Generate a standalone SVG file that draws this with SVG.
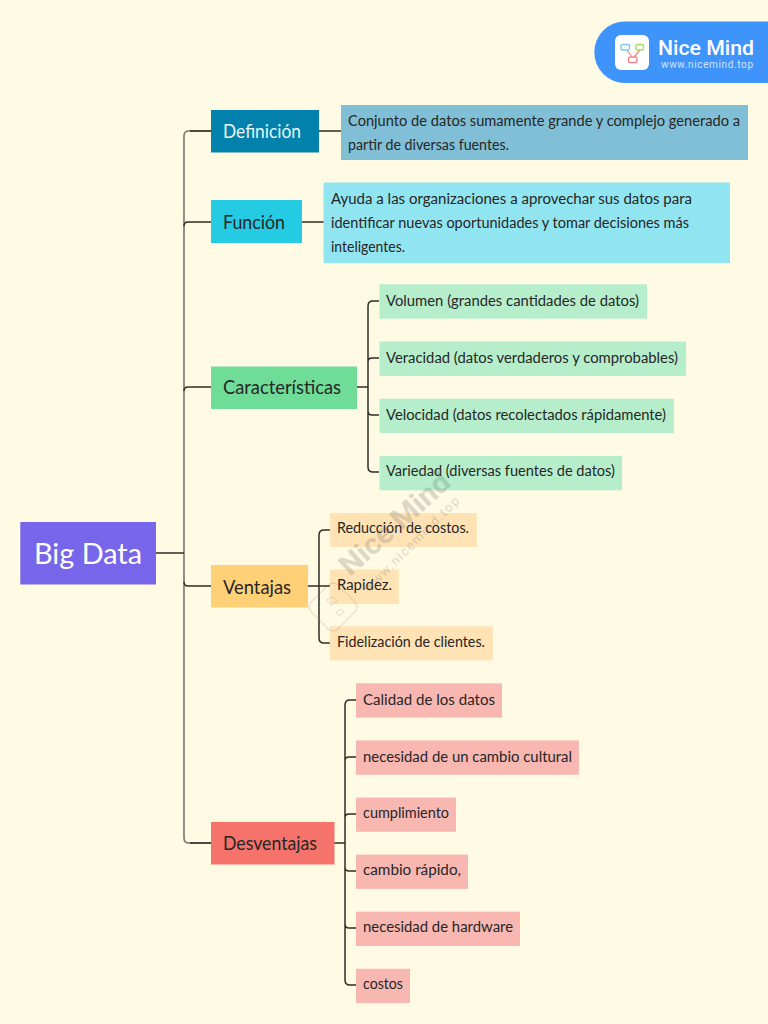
<svg xmlns="http://www.w3.org/2000/svg" width="768" height="1024" viewBox="0 0 768 1024">
<style>
text{font-family:"Lato","Noto Sans",sans-serif;fill:#262626}
.t{font-size:14.5px}.m{font-size:19px}
.c{fill:none;stroke:#2e2e26;stroke-width:1.5}
.k{fill:none;stroke:#77776a;stroke-width:1.6}
.g{fill:#b6eecb}.o{fill:#ffe3b5}.r{fill:#f9b7b2}
.w{fill:#555;font-family:Roboto,sans-serif}
</style>
<rect width="768" height="1024" fill="#fffae3"/>
<g id="connectors">
<path class="k" d="M211 131H189Q184 131 184 136V838Q184 843 189 843H211"/>
<path class="c" d="M156 553H184M190 131H211M190 843H211"/>
<path class="c" d="M184 226Q184 222 188 222H211M184 391Q184 387 188 387H211M184 582Q184 586 188 586H211"/>
<path class="c" d="M319 131H341M302 222H324"/>
<path class="c" d="M357 387H368M379 301H373Q368 301 368 306V467Q368 472 373 472H379M368 362Q368 358 372 358H379M368 411Q368 415 372 415H379"/>
<path class="c" d="M308 586H330M330 530H324Q319 530 319 535V638Q319 643 324 643H330"/>
<path class="c" d="M334 843H345M356 700H350Q345 700 345 705V980Q345 985 350 985H356M345 761Q345 757 349 757H356M345 818Q345 814 349 814H356M345 867Q345 871 349 871H356M345 924Q345 928 349 928H356"/>
</g>
<g id="big-data"><rect x="20.300" y="522" width="135.700" height="62.500" fill="#7866ea"/><text x="34" y="563.500" font-size="29" textLength="108" lengthAdjust="spacingAndGlyphs" style="fill:#fff">Big Data</text></g>
<g id="definicion"><rect x="211" y="110" width="108" height="42.500" fill="#0181ac"/><text class="m" x="223" y="137.500" textLength="78" lengthAdjust="spacingAndGlyphs" style="fill:#e8f6fa">Definición</text></g>
<g id="definicion-text"><rect x="341" y="105" width="407" height="55" fill="#80bfd5"/><text class="t" x="348" y="125.500" textLength="392" lengthAdjust="spacingAndGlyphs">Conjunto de datos sumamente grande y complejo generado a</text><text class="t" x="348" y="149.500" textLength="161" lengthAdjust="spacingAndGlyphs">partir de diversas fuentes.</text></g>
<g id="funcion"><rect x="211" y="200" width="91" height="43" fill="#24cbe3"/><text class="m" x="223" y="228.500" textLength="62" lengthAdjust="spacingAndGlyphs">Función</text></g>
<g id="funcion-text"><rect x="323.500" y="182.500" width="406.500" height="80.500" fill="#91e5f1"/><text class="t" x="331" y="203.500" textLength="361" lengthAdjust="spacingAndGlyphs">Ayuda a las organizaciones a aprovechar sus datos para</text><text class="t" x="331" y="228" textLength="358" lengthAdjust="spacingAndGlyphs">identificar nuevas oportunidades y tomar decisiones más</text><text class="t" x="331" y="251.500" textLength="74" lengthAdjust="spacingAndGlyphs">inteligentes.</text></g>
<g id="caracteristicas"><rect x="211" y="366.500" width="146" height="42.500" fill="#6fdc98"/><text class="m" x="223" y="393.500" textLength="118" lengthAdjust="spacingAndGlyphs">Características</text></g>
<g id="c1"><rect class="g" x="379.500" y="284.300" width="267.500" height="34.400"/><text class="t" x="386" y="305.500" textLength="253" lengthAdjust="spacingAndGlyphs">Volumen (grandes cantidades de datos)</text></g>
<g id="c2"><rect class="g" x="379.500" y="341.500" width="306.500" height="34.400"/><text class="t" x="386" y="362.500" textLength="292" lengthAdjust="spacingAndGlyphs">Veracidad (datos verdaderos y comprobables)</text></g>
<g id="c3"><rect class="g" x="379.500" y="398.700" width="294.500" height="34.400"/><text class="t" x="386" y="419.500" textLength="280" lengthAdjust="spacingAndGlyphs">Velocidad (datos recolectados rápidamente)</text></g>
<g id="c4"><rect class="g" x="379.500" y="455.900" width="242.500" height="34.400"/><text class="t" x="386" y="475.500" textLength="229" lengthAdjust="spacingAndGlyphs">Variedad (diversas fuentes de datos)</text></g>
<g id="ventajas"><rect x="211" y="565" width="97" height="42.500" fill="#ffd076"/><text class="m" x="223" y="593.500" textLength="68" lengthAdjust="spacingAndGlyphs">Ventajas</text></g>
<g id="v1"><rect class="o" x="329.800" y="513" width="147" height="34"/><text class="t" x="337" y="532.500" textLength="132" lengthAdjust="spacingAndGlyphs">Reducción de costos.</text></g>
<g id="v2"><rect class="o" x="329.800" y="569.500" width="69" height="34.500"/><text class="t" x="337" y="590" textLength="55" lengthAdjust="spacingAndGlyphs">Rapidez.</text></g>
<g id="v3"><rect class="o" x="329.800" y="626.300" width="163" height="34"/><text class="t" x="337" y="647" textLength="148" lengthAdjust="spacingAndGlyphs">Fidelización de clientes.</text></g>
<g id="desventajas"><rect x="211" y="822" width="123.500" height="42.500" fill="#f5736b"/><text class="m" x="223" y="849.500" textLength="94" lengthAdjust="spacingAndGlyphs">Desventajas</text></g>
<g id="d1"><rect class="r" x="356" y="683.300" width="146" height="34.300"/><text class="t" x="363" y="704.500" textLength="132" lengthAdjust="spacingAndGlyphs">Calidad de los datos</text></g>
<g id="d2"><rect class="r" x="356" y="740.400" width="223" height="34.300"/><text class="t" x="363" y="761.500" textLength="209" lengthAdjust="spacingAndGlyphs">necesidad de un cambio cultural</text></g>
<g id="d3"><rect class="r" x="356" y="797.500" width="100" height="34.300"/><text class="t" x="363" y="818" textLength="86" lengthAdjust="spacingAndGlyphs">cumplimiento</text></g>
<g id="d4"><rect class="r" x="356" y="854.600" width="112" height="34.300"/><text class="t" x="363" y="875" textLength="98" lengthAdjust="spacingAndGlyphs">cambio rápido,</text></g>
<g id="d5"><rect class="r" x="356" y="911.700" width="164" height="34.300"/><text class="t" x="363" y="932" textLength="150" lengthAdjust="spacingAndGlyphs">necesidad de hardware</text></g>
<g id="d6"><rect class="r" x="356" y="968.800" width="54" height="34.300"/><text class="t" x="363" y="989" textLength="40" lengthAdjust="spacingAndGlyphs">costos</text></g>
<g id="watermark" opacity="0.2">
<rect x="314" y="588" width="38" height="38" rx="7" fill="none" stroke="#777" stroke-width="1.200" transform="rotate(-45 333 607)"/>
<path d="M326 600l7 -3l4 4l-6 4zM336 612l5 -3l3 3l-5 4z" fill="none" stroke="#777" stroke-width="1"/>
<text class="w" transform="translate(350 577) rotate(-42)" font-size="29" font-weight="700" textLength="138" lengthAdjust="spacingAndGlyphs">Nice Mind</text>
<text class="w" transform="translate(369 593) rotate(-45)" font-size="13" letter-spacing="1" textLength="130">www.nicemind.top</text>
</g>
<g id="logo">
<path d="M768 21.500H625A30.750 30.750 0 0 0 625 83H768Z" fill="#3f94fb"/>
<rect x="615" y="35" width="34" height="35" rx="6" fill="#fff"/>
<path d="M627 50L632 57M640 50L634 57" stroke="#f08a7a" stroke-width="1.200" fill="none"/>
<rect x="621" y="44.500" width="8.500" height="5.500" rx="1.500" fill="none" stroke="#7ccbe8" stroke-width="1.400"/>
<rect x="636" y="44.500" width="7.500" height="5.500" rx="1.500" fill="none" stroke="#a5dc60" stroke-width="1.400"/>
<rect x="628.500" y="57" width="8.500" height="5.500" rx="1.500" fill="none" stroke="#f5848a" stroke-width="1.400"/>
<text x="658" y="54.500" font-size="21" font-weight="500" textLength="96" lengthAdjust="spacingAndGlyphs" style="fill:#fff;font-family:Roboto,sans-serif">Nice Mind</text>
<text x="661" y="68" font-size="10" textLength="92" style="fill:#cfe3ff;font-family:Roboto,sans-serif">www.nicemind.top</text>
</g>
</svg>
